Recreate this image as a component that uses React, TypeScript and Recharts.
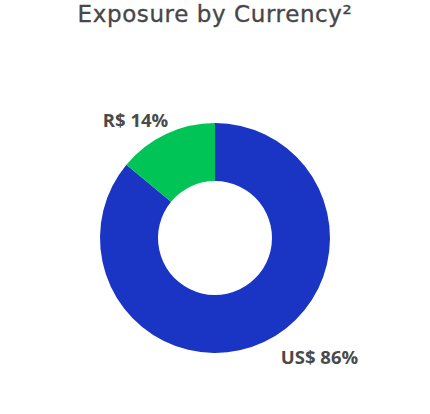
import { PieChart, Pie, Cell } from 'recharts';

const currencies = ['US$', 'R$'];
const shares = [86, 14];
const colors = ['#1a35c4', '#00c456'];

const data = currencies.map((name, i) => ({ name, value: shares[i] }));

const RADIAN = Math.PI / 180;

function renderLabel(props: any) {
  const { cx, cy, midAngle, outerRadius, index } = props;
  const r = outerRadius + 16;
  const x = cx + r * Math.cos(-midAngle * RADIAN);
  const y = cy + r * Math.sin(-midAngle * RADIAN);
  const right = x > cx;
  return (
    <text
      x={x + (right ? 10 : 9)}
      y={y}
      textAnchor={right ? 'start' : 'end'}
      dominantBaseline="central"
      fill="#4a4a4a"
      fontSize={18.5}
      fontWeight={700}
      fontFamily="'Open Sans', sans-serif"
    >
      {`${currencies[index]} ${shares[index]}%`}
    </text>
  );
}

export default function App() {
  return (
    <div style={{ position: 'absolute', left: 0, top: 0, width: 430, height: 414, background: '#fff' }}>
      <div
        style={{
          position: 'absolute',
          top: 0.5,
          left: 0,
          width: 430,
          textAlign: 'center',
          fontFamily: "'DejaVu Sans', sans-serif",
          fontSize: 23,
          letterSpacing: 0.6,
          WebkitTextStroke: '0.35px #474747',
          color: '#474747',
        }}
      >
        Exposure by Currency²
      </div>
      <PieChart width={430} height={414}>
        <Pie
          data={data}
          dataKey="value"
          nameKey="name"
          cx={210}
          cy={233}
          innerRadius={57}
          outerRadius={115}
          startAngle={90}
          endAngle={-270}
          stroke="none"
          label={renderLabel}
          labelLine={false}
          isAnimationActive={false}
        >
          {data.map((d, i) => (
            <Cell key={d.name} fill={colors[i]} />
          ))}
        </Pie>
      </PieChart>
    </div>
  );
}
